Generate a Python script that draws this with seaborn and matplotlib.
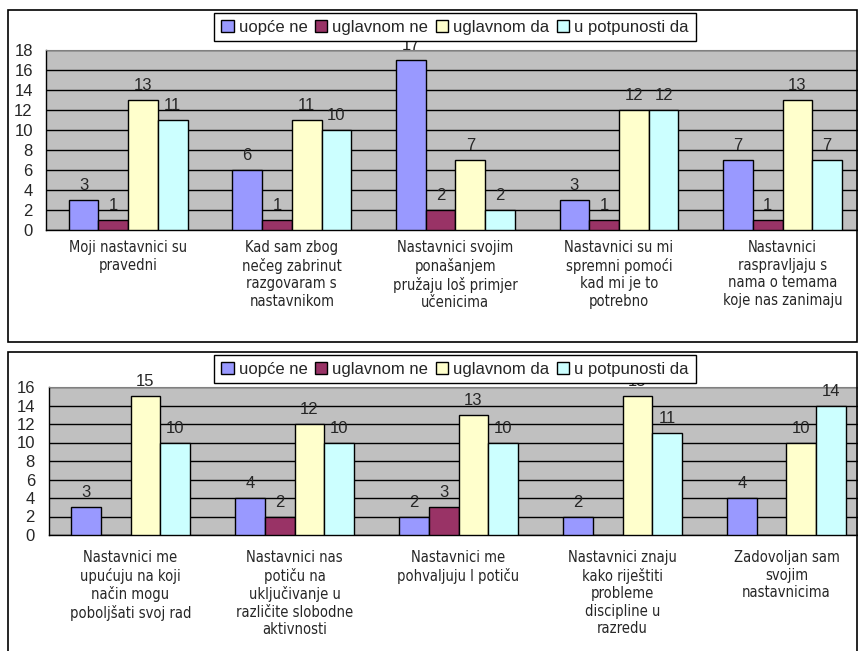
import numpy as np
import pandas as pd
import seaborn as sns
import matplotlib
matplotlib.use("Agg")
import matplotlib.pyplot as plt
from matplotlib.patches import Rectangle
from matplotlib import font_manager

# answers (legend)
odgovori = ['uopće ne', 'uglavnom ne', 'uglavnom da', 'u potpunosti da']
boje = ['#9999FF', '#993366', '#FFFFCC', '#CCFFFF']

# top chart
pitanja_1 = ['Moji nastavnici su\npravedni',
             'Kad sam zbog\nnečeg zabrinut\nrazgovaram s\nnastavnikom',
             'Nastavnici svojim\nponašanjem\npružaju loš primjer\nučenicima',
             'Nastavnici su mi\nspremni pomoći\nkad mi je to\npotrebno',
             'Nastavnici\nraspravljaju s\nnama o temama\nkoje nas zanimaju']
uopce_ne_1 = [3, 6, 17, 3, 7]
uglavnom_ne_1 = [1, 1, 2, 1, 1]
uglavnom_da_1 = [13, 11, 7, 12, 13]
potpuno_da_1 = [11, 10, 2, 12, 7]

# bottom chart
pitanja_2 = ['Nastavnici me\nupućuju na koji\nnačin mogu\npoboljšati svoj rad',
             'Nastavnici nas\npotiču na\nuključivanje u\nrazličite slobodne\naktivnosti',
             'Nastavnici me\npohvaljuju I potiču',
             'Nastavnici znaju\nkako riještiti\nprobleme\ndiscipline u\nrazredu',
             'Zadovoljan sam\nsvojim\nnastavnicima']
uopce_ne_2 = [3, 4, 2, 2, 4]
uglavnom_ne_2 = [0, 2, 3, 0, 0]
uglavnom_da_2 = [15, 12, 13, 15, 10]
potpuno_da_2 = [10, 10, 10, 11, 14]

sns.set_style('white')
plt.rcParams['font.family'] = ['Liberation Sans', 'DejaVu Sans']

# narrow font for the category labels if one is installed
cat_font = {'fontfamily': 'Liberation Sans', 'fontsize': 10.5}
for f in font_manager.fontManager.ttflist:
    if 'Narrow' in f.name or 'Condensed' in f.name:
        cat_font = {'fontfamily': f.name, 'fontsize': 11.5}
        break
    if str(f.stretch) in ('condensed', 'semi-condensed') and f.name in ('DejaVu Sans', 'Liberation Sans'):
        cat_font = {'fontfamily': f.name, 'fontstretch': 'condensed', 'fontsize': 10.5}
        break


def long_table(pitanja, serije):
    rows = []
    for odg, vals in zip(odgovori, serije):
        for p, v in zip(pitanja, vals):
            rows.append({'pitanje': p, 'odgovor': odg, 'broj': v})
    return pd.DataFrame(rows)


def draw(ax, df, pitanja, ymax, legend_y, label_pad):
    sns.barplot(data=df, x='pitanje', y='broj', hue='odgovor', order=pitanja,
                hue_order=odgovori, palette=boje, saturation=1, width=0.727,
                edgecolor='black', linewidth=1, ax=ax, zorder=3)
    for cont in ax.containers:
        vals = cont.datavalues
        ax.bar_label(cont, labels=[f'{v:g}' if v > 0 else '' for v in vals],
                     padding=5, fontsize=12, zorder=4)
    ax.set_facecolor('#C0C0C0')
    ax.set_ylim(0, ymax)
    ax.set_xlim(-0.5, 4.5)
    ax.set_yticks(np.arange(0, ymax + 1, 2))
    ax.yaxis.grid(True, color='black', linewidth=1, zorder=0)
    ax.set_axisbelow(True)
    ax.set_xlabel('')
    ax.set_ylabel('')
    ax.set_xticks(np.arange(-0.5, 5, 1), labels=[''] * 6)
    ax.set_xticks(range(5), labels=pitanja, minor=True, linespacing=1.2, **cat_font)
    ax.tick_params(axis='x', which='major', length=4.3, width=1, color='black')
    ax.tick_params(axis='x', which='minor', length=0, pad=label_pad)
    ax.tick_params(axis='y', length=4.3, width=1, color='black', labelsize=12, pad=5.5)
    for s in ['left', 'bottom']:
        ax.spines[s].set_color('black')
        ax.spines[s].set_linewidth(1)
    for s in ['top', 'right']:
        ax.spines[s].set_color('#808080')
    handles, labels = ax.get_legend_handles_labels()
    leg = ax.legend(handles, labels, ncol=4, loc='upper center',
                    bbox_to_anchor=(455 / 858, legend_y), bbox_transform=fig.transFigure,
                    fontsize=12, frameon=True, fancybox=False, edgecolor='black',
                    framealpha=1, handlelength=0.75, handleheight=0.75,
                    handletextpad=0.3, columnspacing=0.45, borderpad=0.4,
                    borderaxespad=0, title=None)
    leg.get_frame().set_linewidth(1)
    leg.set_zorder(10)


fig = plt.figure(figsize=(8.58, 6.51), dpi=100)

ax1 = fig.add_axes([46.4 / 858, 1 - 230 / 651, 818 / 858, 180 / 651])
ax2 = fig.add_axes([48.5 / 858, 1 - 535 / 651, 820 / 858, 148 / 651])

df1 = long_table(pitanja_1, [uopce_ne_1, uglavnom_ne_1, uglavnom_da_1, potpuno_da_1])
df2 = long_table(pitanja_2, [uopce_ne_2, uglavnom_ne_2, uglavnom_da_2, potpuno_da_2])

draw(ax1, df1, pitanja_1, 18, 1 - 13 / 651, 7.5)
draw(ax2, df2, pitanja_2, 16, 1 - 355 / 651, 11)

# chart borders
fig.add_artist(Rectangle((8 / 858, 1 - 342 / 651), 0.99, 332 / 651,
                         transform=fig.transFigure, fill=False,
                         edgecolor='black', linewidth=1.2))
fig.add_artist(Rectangle((8 / 858, -0.05), 0.99, 0.05 + 1 - 352 / 651,
                         transform=fig.transFigure, fill=False,
                         edgecolor='black', linewidth=1.2))

fig.savefig('out.png', dpi=100)
